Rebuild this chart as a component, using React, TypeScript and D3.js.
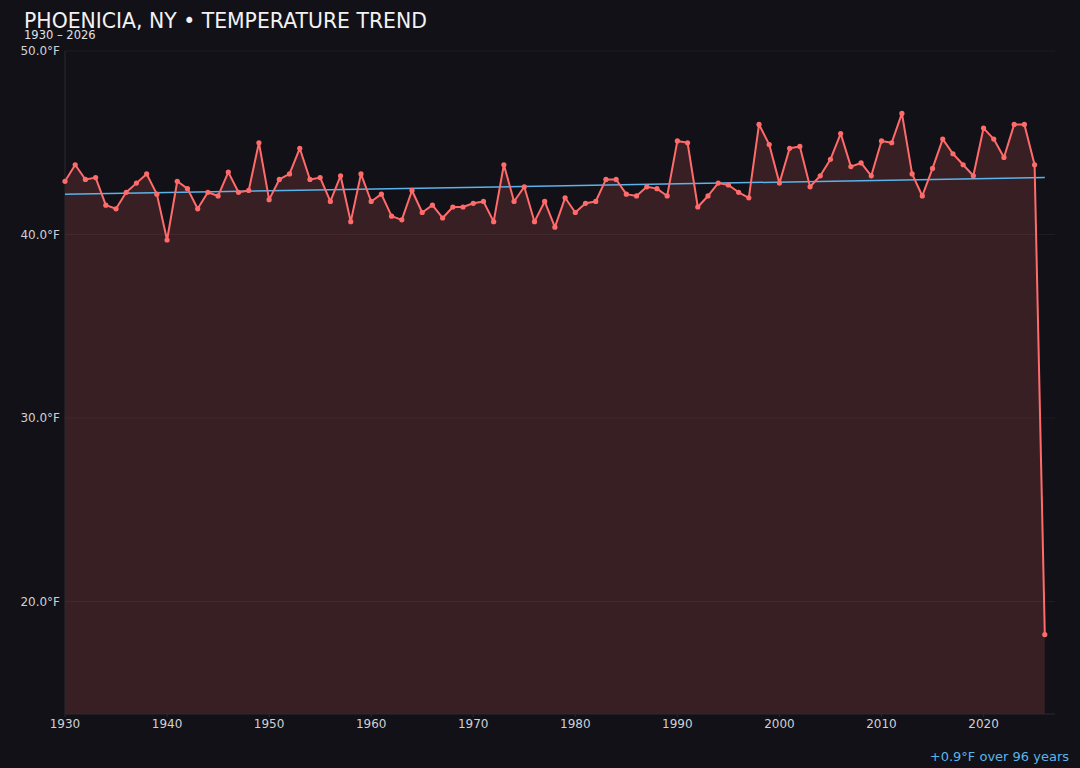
import { useEffect } from 'react';
import * as d3 from 'd3';

const W = 1080;
const H = 768;

const START_YEAR = 1930;
const TEMPS = [
  42.9, 43.8, 43.0, 43.1, 41.6, 41.4, 42.3, 42.8, 43.3, 42.2, // 1930s
  39.7, 42.9, 42.5, 41.4, 42.3, 42.1, 43.4, 42.3, 42.4, 45.0, // 1940s
  41.9, 43.0, 43.3, 44.7, 43.0, 43.1, 41.8, 43.2, 40.7, 43.3, // 1950s
  41.8, 42.2, 41.0, 40.8, 42.4, 41.2, 41.6, 40.9, 41.5, 41.5, // 1960s
  41.7, 41.8, 40.7, 43.8, 41.8, 42.6, 40.7, 41.8, 40.4, 42.0, // 1970s
  41.2, 41.7, 41.8, 43.0, 43.0, 42.2, 42.1, 42.6, 42.5, 42.1, // 1980s
  45.1, 45.0, 41.5, 42.1, 42.8, 42.7, 42.3, 42.0, 46.0, 44.9, // 1990s
  42.8, 44.7, 44.8, 42.6, 43.2, 44.1, 45.5, 43.7, 43.9, 43.2, // 2000s
  45.1, 45.0, 46.6, 43.3, 42.1, 43.6, 45.2, 44.4, 43.8, 43.2, // 2010s
  45.8, 45.2, 44.2, 46.0, 46.0, 43.8, 18.2,                   // 2020s
];
const YEARS = TEMPS.map((_, i) => START_YEAR + i);

// trend line end points
const TREND_YEARS = [1930, 2026];
const TREND_VALUES = [42.2, 43.1];

const Y_TICKS = [20, 30, 40, 50];
const X_TICKS = [1930, 1940, 1950, 1960, 1970, 1980, 1990, 2000, 2010, 2020];

const BG = '#121117';
const RED = '#ff6b6b';
const BLUE = '#5ab4ea';
const FONT = '"DejaVu Sans", sans-serif';

export default function App() {
  useEffect(() => {
    document.body.style.margin = '0';
    document.body.style.background = BG;
  }, []);

  const x = d3.scaleLinear().domain([1930, 2027]).range([65, 1055]);
  const y = d3.scaleLinear().domain([13.87, 50]).range([714, 51]);

  const pts = YEARS.map((yr, i) => ({ yr, t: TEMPS[i] }));

  const line = d3.line<{ yr: number; t: number }>()
    .x(d => x(d.yr))
    .y(d => y(d.t));

  const area = d3.area<{ yr: number; t: number }>()
    .x(d => x(d.yr))
    .y0(y(13.87))
    .y1(d => y(d.t));

  const trend = d3.line<number>()
    .x((_d, i) => x(TREND_YEARS[i]))
    .y(d => y(d));

  return (
    <svg width={W} height={H} style={{ display: 'block' }} fontFamily={FONT}>
      <rect width={W} height={H} fill={BG} />

      {/* grid */}
      {Y_TICKS.map(t => (
        <line key={t} x1={65} x2={1055} y1={y(t)} y2={y(t)} stroke="#ffffff" strokeOpacity={0.05} />
      ))}

      <path d={area(pts) ?? ''} fill={RED} fillOpacity={0.16} />

      {/* axes */}
      <line x1={65} x2={65} y1={51} y2={714} stroke="#2a2a33" />
      <line x1={65} x2={1055} y1={714} y2={714} stroke="#2a2a33" />

      {Y_TICKS.map(t => (
        <text key={t} x={60} y={y(t)} dy="0.35em" textAnchor="end" fontSize={12} fill="#d0d0d4">
          {t.toFixed(1)}°F
        </text>
      ))}
      {X_TICKS.map(t => (
        <g key={t}>
          <line x1={x(t)} x2={x(t)} y1={714} y2={717} stroke="#2a2a33" />
          <text x={x(t)} y={728} textAnchor="middle" fontSize={12} fill="#d0d0d4">{t}</text>
        </g>
      ))}

      <path d={trend(TREND_VALUES) ?? ''} fill="none" stroke={BLUE} strokeWidth={1.5} />

      <path d={line(pts) ?? ''} fill="none" stroke={RED} strokeWidth={2} strokeLinejoin="round" />
      {pts.map(p => (
        <circle key={p.yr} cx={x(p.yr)} cy={y(p.t)} r={2.6} fill={RED} />
      ))}

      <text x={24} y={28} fontSize={20.4} fill="#f2f2f4">PHOENICIA, NY • TEMPERATURE TREND</text>
      <text x={24} y={38.5} fontSize={11.5} fill="#e0e0e4">1930 – 2026</text>
      <text x={1069} y={761} textAnchor="end" fontSize={13} fill={BLUE}>+0.9°F over 96 years</text>
    </svg>
  );
}
